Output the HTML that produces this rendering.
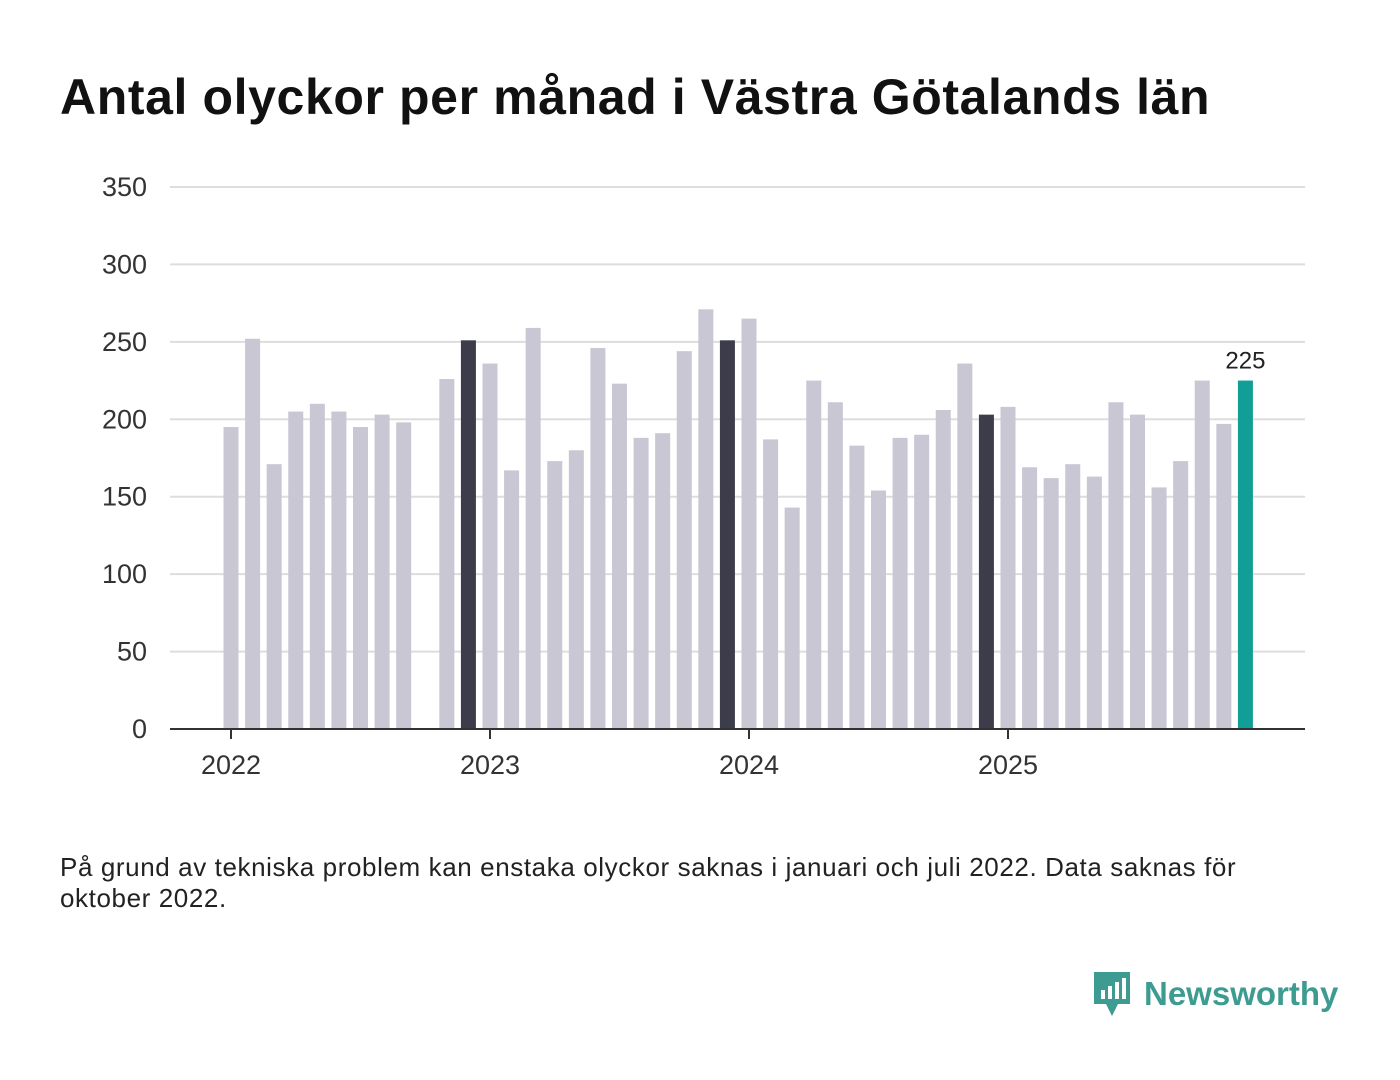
<!DOCTYPE html>
<html><head><meta charset="utf-8"><style>
body{margin:0;background:#fff;font-family:"Liberation Sans",sans-serif;}
#wrap{position:relative;width:1400px;height:1080px;}
h1{position:absolute;left:60px;top:68px;margin:0;font-size:50px;letter-spacing:0.6px;font-weight:bold;color:#111;white-space:nowrap;}
.note{position:absolute;left:60px;top:852px;font-size:26px;letter-spacing:0.6px;color:#222;line-height:31px;width:1300px;}
.logo{position:absolute;left:1092px;top:970px;display:flex;align-items:center;}
.logo span{font-size:33px;font-weight:bold;color:#3d9b92;margin-left:12px;}
</style></head><body>
<div id="wrap">
<h1>Antal olyckor per månad i Västra Götalands län</h1>
<svg id="chart" width="1400" height="820" style="position:absolute;left:0;top:0"></svg>
<div class="note">På grund av tekniska problem kan enstaka olyckor saknas i januari och juli 2022. Data saknas för<br>oktober 2022.</div>
<div class="logo">
<svg width="40" height="48" viewBox="0 0 40 48"><path d="M2 2h36v32H26l-6 12-6-12H2z" fill="#3d9b92"/><rect x="9" y="20" width="4" height="9" fill="#fff"/><rect x="16" y="16" width="4" height="13" fill="#fff"/><rect x="23" y="12" width="4" height="17" fill="#fff"/><rect x="30" y="8" width="4" height="21" fill="#fff"/></svg>
<span>Newsworthy</span></div>
</div>
<script>
const years=["2022","2023","2024","2025"];
const values=[195,252,171,205,210,205,195,203,198,null,226,251,
236,167,259,173,180,246,223,188,191,244,271,251,
265,187,143,225,211,183,154,188,190,206,236,203,
208,169,162,171,163,211,203,156,173,225,197,225];
const yTicks=[0,50,100,150,200,250,300,350];
const svg=document.getElementById('chart');
const NS='http://www.w3.org/2000/svg';
const y0=729,pxPer=542/350,x0=231,step=259/12,bw=15;
const yS=v=>y0-v*pxPer, xS=i=>x0+i*step;
function mk(t,a){const e=document.createElementNS(NS,t);for(const k in a)e.setAttribute(k,a[k]);svg.appendChild(e);return e;}
yTicks.forEach(t=>{
 if(t>0){const l=mk('line',{x1:170,x2:1305,y1:yS(t),y2:yS(t),stroke:'#ddd','stroke-width':2});
 
 }
 const tx=mk('text',{x:147,y:yS(t)+9,'text-anchor':'end','font-size':27,fill:'#333','font-family':'Liberation Sans, sans-serif'});
 tx.textContent=t;
 
 
});
values.forEach((v,i)=>{
 if(v==null)return;
 const last=i===values.length-1, dec=i%12===11;
 const r=mk('rect',{x:xS(i)-bw/2,y:yS(v),width:bw,height:v*pxPer,fill:last?'#109e96':(dec?'#3c3c4a':'#c8c7d3')});
 
 
 if(last){const t=mk('text',{x:xS(i),y:yS(v)-12,'text-anchor':'middle','font-size':24,fill:'#222','font-family':'Liberation Sans, sans-serif'});t.textContent=v;
 
 }
});
const ax=mk('line',{x1:170,x2:1305,y1:y0,y2:y0,stroke:'#333','stroke-width':2});


years.forEach((yr,k)=>{
 const x=xS(k*12);
 const tk=mk('line',{x1:x,x2:x,y1:y0,y2:y0+10,stroke:'#333','stroke-width':2});
 
 
 const t=mk('text',{x:x,y:774,'text-anchor':'middle','font-size':27,fill:'#333','font-family':'Liberation Sans, sans-serif'});t.textContent=yr;
 
 
});
</script>
</body></html>
